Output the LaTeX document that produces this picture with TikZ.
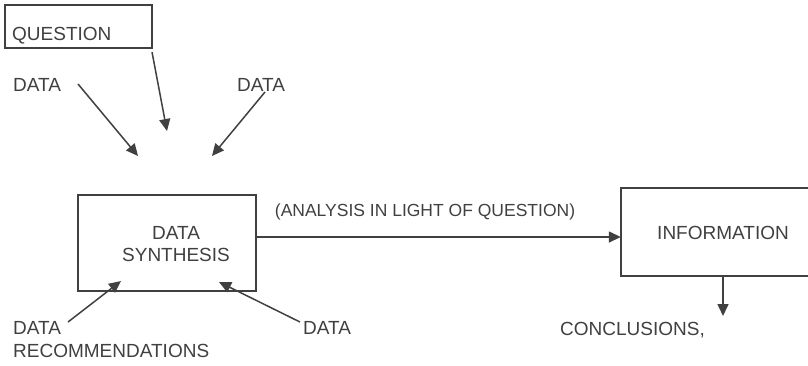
\documentclass[tikz,border=0pt]{standalone}
\usepackage{fontspec}
\setmainfont{Liberation Sans}
\usetikzlibrary{arrows.meta}
\definecolor{ink}{HTML}{404040}
\tikzset{
  lbl/.style={inner sep=0pt, text=ink, font=\fontsize{19}{22}\selectfont},
  boxshape/.style={draw=ink, line width=1.5pt, inner sep=0pt},
  conn/.style={draw=ink, line width=1.5pt, -{Triangle[length=12pt,width=11pt]}}
}
\begin{document}
\begin{tikzpicture}[x=1pt,y=-1pt]
\useasboundingbox (0,0) rectangle (808,365);
% question box
\node[boxshape, minimum width=147pt, minimum height=43pt] (qbox) at (78.5,26.5) {};
\node[lbl, anchor=west] (qtext) at (12,36) {QUESTION};
\node[lbl, anchor=west] (d1) at (13,85) {DATA};
\node[lbl, anchor=west] (d2) at (237,85) {DATA};
\coordinate (qs) at (152,52);
\coordinate (qt) at (167,131);
\coordinate (d1s) at (78,84);
\coordinate (d1t) at (138,156);
\coordinate (d2s) at (265,92);
\coordinate (d2t) at (212,156);
\draw[conn] (qs) -- (qt);
\draw[conn] (d1s) -- (d1t);
\draw[conn] (d2s) -- (d2t);
% synthesis box
\node[boxshape, minimum width=178pt, minimum height=96pt] (syn) at (167,243) {};
\node[lbl, align=center] (syntext) at (176,244) {DATA\\SYNTHESIS};
% information box (cut by the right edge)
\coordinate (edge) at (808,0);
\node[inner sep=0pt, minimum width=204pt, minimum height=88pt] (info) at (723,232) {};
\node[lbl] (infotext) at (723,233) {INFORMATION};
\draw[draw=ink, line width=1.5pt] (info.north west -| edge) -- (info.north west) -- (info.south west) -- (info.south west -| edge);
% main connector
\draw[conn] ([yshift=6pt]syn.east) -- ([yshift=-5pt]info.west);
\node[lbl, font=\fontsize{17.5}{20}\selectfont] (ana) at (425,212) {(ANALYSIS IN LIGHT OF QUESTION)};
% conclusions
\node[lbl, anchor=west] (concl) at (560,330) {CONCLUSIONS,};
\coordinate (ct) at (723,316);
\draw[conn] (info.south) -- (ct);
% lower data
\node[lbl, anchor=west] (d3) at (13,328) {DATA};
\node[lbl, anchor=west] (rec) at (13,351) {RECOMMENDATIONS};
\node[lbl, anchor=west] (d4) at (303,328) {DATA};
\coordinate (d3s) at (68,322);
\coordinate (d3t) at (121,281);
\coordinate (d4s) at (300,322);
\coordinate (d4t) at (219,282);
\draw[conn] (d3s) -- (d3t);
\draw[conn] (d4s) -- (d4t);
\end{tikzpicture}
\end{document}
